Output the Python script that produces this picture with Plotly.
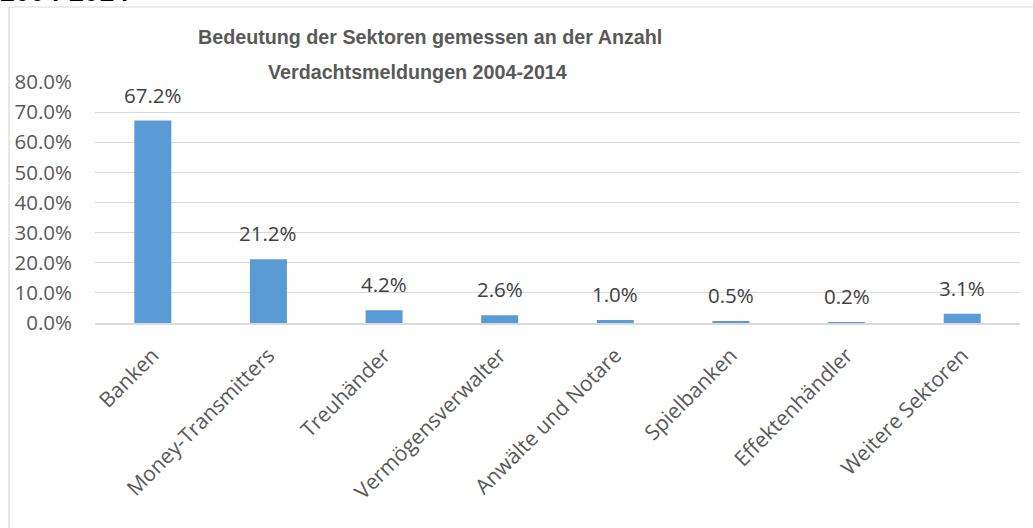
import plotly.graph_objects as go

categories = ["Banken", "Money-Transmitters", "Treuhänder", "Vermögensverwalter",
              "Anwälte und Notare", "Spielbanken", "Effektenhändler", "Weitere Sektoren"]
shares = [0.672, 0.212, 0.042, 0.026, 0.010, 0.005, 0.002, 0.031]
y_ticks = [0.0, 0.1, 0.2, 0.3, 0.4, 0.5, 0.6, 0.7, 0.8]
title_lines = ["Bedeutung der Sektoren gemessen an der Anzahl", "Verdachtsmeldungen 2004-2014"]
cut_title = "2004-2014"

W, H = 1033, 528
L, R, T, B = 95, 13, 82, 205
pw, ph = W - L - R, H - T - B

def px_x(x):
    return (x - L) / pw

def px_y(y):
    return 1 + (T - y) / ph

FONT = "Open Sans"
FS = 20.5
TFONT = "Liberation Sans"

fig = go.Figure(go.Bar(
    x=categories, y=shares,
    marker=dict(color="#5b9bd5", line=dict(width=0)),
    width=0.32,
    hoverinfo="skip",
))

value_labels = [
    dict(x=c, y=v, xref="x", yref="y", text=f"{v*100:.1f}%",
         showarrow=False, xanchor="center", yanchor="middle", yshift=26,
         font=dict(family=FONT, size=FS, color="#404040"))
    for c, v in zip(categories, shares)
]

fig.update_layout(
    width=W, height=H,
    margin=dict(l=L, r=R, t=T, b=B, autoexpand=False),
    paper_bgcolor="white", plot_bgcolor="white",
    showlegend=False,
    xaxis=dict(
        tickangle=-45, showgrid=False, ticks="",
        tickfont=dict(family=FONT, size=21, color="#595959"),
        showline=True, linecolor="#d9d9d9", linewidth=1.5,
        ticklabelstandoff=10,
    ),
    yaxis=dict(
        range=[0, 0.8], tickvals=y_ticks, tickformat=".1%",
        showgrid=True, gridcolor="#d9d9d9", gridwidth=1,
        zeroline=False, showline=False, ticks="",
        tickfont=dict(family=FONT, size=FS, color="#595959"),
        ticklabelstandoff=22,
    ),
    shapes=[
        dict(type="line", xref="paper", yref="paper",
             x0=px_x(9), x1=px_x(9), y0=px_y(7), y1=px_y(H + 5),
             line=dict(color="#d9d9d9", width=1.2)),
        dict(type="line", xref="paper", yref="paper",
             x0=px_x(9), x1=px_x(W + 5), y0=px_y(7), y1=px_y(7),
             line=dict(color="#d9d9d9", width=1.2)),
    ],
    annotations=value_labels + [
        dict(text="<b>" + title_lines[0] + "</b>", xref="paper", yref="paper",
             x=px_x(430), y=px_y(37), xanchor="center", yanchor="middle",
             showarrow=False,
             font=dict(family=TFONT, size=19.7, color="#595959")),
        dict(text="<b>" + title_lines[1] + "</b>", xref="paper", yref="paper",
             x=px_x(417), y=px_y(72), xanchor="center", yanchor="middle",
             showarrow=False,
             font=dict(family=TFONT, size=19.7, color="#595959")),
        dict(text="<b>" + cut_title + "</b>", xref="paper", yref="paper",
             x=px_x(-2), y=px_y(9), xanchor="left", yanchor="bottom",
             showarrow=False,
             font=dict(family="Liberation Sans", size=27, color="#000000")),
    ],
)

fig.write_html("out.html", config={"displayModeBar": False},
               post_script="document.body.style.margin='0';document.body.style.overflow='hidden';")
